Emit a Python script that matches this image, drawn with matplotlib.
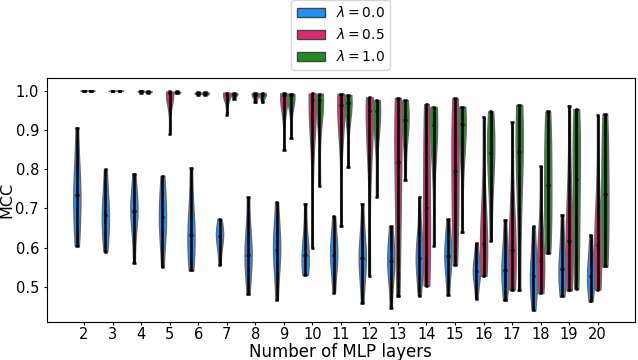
import matplotlib
matplotlib.use("Agg")
from matplotlib import pyplot as plt
from matplotlib.patches import Patch

# Data (MCC samples, one list per layer count)
layers = list(range(2, 21))
lambdas = ["0.0", "0.5", "1.0"]
colors = ["dodgerblue", "#DA2A6C", "forestgreen"]

mcc_l00 = [
    [0.605, 0.65, 0.70, 0.733, 0.76, 0.80, 0.906],
    [0.59, 0.63, 0.66, 0.684, 0.70, 0.74, 0.80],
    [0.561, 0.66, 0.68, 0.694, 0.71, 0.73, 0.788],
    [0.551, 0.63, 0.65, 0.677, 0.70, 0.74, 0.783],
    [0.542, 0.58, 0.61, 0.633, 0.66, 0.70, 0.803],
    [0.556, 0.60, 0.62, 0.630, 0.64, 0.65, 0.673],
    [0.482, 0.55, 0.57, 0.582, 0.60, 0.64, 0.728],
    [0.466, 0.55, 0.58, 0.595, 0.62, 0.65, 0.716],
    [0.531, 0.545, 0.56, 0.582, 0.60, 0.63, 0.712],
    [0.484, 0.55, 0.57, 0.582, 0.60, 0.63, 0.68],
    [0.459, 0.54, 0.56, 0.574, 0.59, 0.62, 0.712],
    [0.446, 0.53, 0.55, 0.567, 0.58, 0.61, 0.654],
    [0.478, 0.55, 0.56, 0.574, 0.59, 0.62, 0.730],
    [0.48, 0.55, 0.56, 0.578, 0.60, 0.62, 0.673],
    [0.469, 0.52, 0.53, 0.540, 0.55, 0.57, 0.612],
    [0.466, 0.51, 0.53, 0.544, 0.57, 0.60, 0.671],
    [0.44, 0.49, 0.51, 0.528, 0.55, 0.59, 0.654],
    [0.476, 0.51, 0.53, 0.545, 0.57, 0.61, 0.684],
    [0.463, 0.50, 0.515, 0.529, 0.55, 0.58, 0.633],
]

mcc_l05 = [
    [0.999, 0.9995, 1.0, 1.0, 1.0, 1.0, 1.0],
    [0.998, 0.999, 0.9995, 1.0, 1.0, 1.0, 1.0],
    [0.995, 0.997, 0.998, 0.998, 0.999, 0.999, 1.0],
    [0.889, 0.97, 0.985, 0.994, 0.996, 0.997, 0.998],
    [0.99, 0.992, 0.993, 0.993, 0.994, 0.995, 0.996],
    [0.939, 0.975, 0.985, 0.99, 0.993, 0.994, 0.995],
    [0.970, 0.98, 0.985, 0.99, 0.992, 0.993, 0.994],
    [0.849, 0.96, 0.975, 0.989, 0.991, 0.992, 0.993],
    [0.599, 0.93, 0.96, 0.976, 0.985, 0.99, 0.993],
    [0.654, 0.93, 0.95, 0.964, 0.975, 0.985, 0.992],
    [0.527, 0.88, 0.92, 0.947, 0.96, 0.975, 0.983],
    [0.476, 0.62, 0.72, 0.819, 0.90, 0.95, 0.981],
    [0.503, 0.55, 0.62, 0.70, 0.80, 0.90, 0.966],
    [0.556, 0.65, 0.72, 0.796, 0.87, 0.93, 0.981],
    [0.528, 0.55, 0.58, 0.610, 0.64, 0.70, 0.934],
    [0.493, 0.52, 0.56, 0.593, 0.63, 0.68, 0.919],
    [0.484, 0.51, 0.54, 0.565, 0.59, 0.63, 0.807],
    [0.491, 0.53, 0.58, 0.618, 0.66, 0.72, 0.961],
    [0.493, 0.53, 0.57, 0.606, 0.64, 0.68, 0.938],
]

mcc_l10 = [
    [0.999, 0.9995, 1.0, 1.0, 1.0, 1.0, 1.0],
    [0.998, 0.999, 0.9995, 1.0, 1.0, 1.0, 1.0],
    [0.995, 0.996, 0.997, 0.997, 0.998, 0.998, 0.999],
    [0.993, 0.994, 0.995, 0.996, 0.996, 0.997, 0.998],
    [0.99, 0.991, 0.992, 0.993, 0.994, 0.995, 0.996],
    [0.98, 0.985, 0.988, 0.99, 0.992, 0.993, 0.994],
    [0.970, 0.98, 0.985, 0.99, 0.992, 0.993, 0.994],
    [0.879, 0.96, 0.98, 0.99, 0.991, 0.992, 0.992],
    [0.757, 0.95, 0.965, 0.976, 0.985, 0.99, 0.992],
    [0.805, 0.94, 0.96, 0.968, 0.978, 0.985, 0.989],
    [0.73, 0.90, 0.93, 0.947, 0.96, 0.97, 0.976],
    [0.773, 0.88, 0.91, 0.925, 0.94, 0.96, 0.976],
    [0.605, 0.86, 0.89, 0.913, 0.93, 0.945, 0.959],
    [0.639, 0.85, 0.89, 0.914, 0.93, 0.945, 0.959],
    [0.618, 0.76, 0.81, 0.842, 0.88, 0.91, 0.947],
    [0.491, 0.70, 0.80, 0.845, 0.90, 0.94, 0.964],
    [0.586, 0.64, 0.70, 0.760, 0.83, 0.89, 0.947],
    [0.495, 0.58, 0.68, 0.775, 0.85, 0.91, 0.953],
    [0.552, 0.60, 0.67, 0.737, 0.80, 0.88, 0.941],
]

series = [mcc_l00, mcc_l05, mcc_l10]
offsets = [-0.25, 0.0, 0.25]

fig = plt.figure(figsize=(6.38, 3.6), dpi=100)
ax = fig.add_axes([0.073, 0.105, 0.922, 0.678])

for data, off, col in zip(series, offsets, colors):
    pos = [l + off for l in layers]
    parts = ax.violinplot(data, positions=pos, widths=0.25,
                          showextrema=True, showmedians=True)
    for body in parts["bodies"]:
        body.set_facecolor(col)
        body.set_edgecolor("dimgray")
        body.set_linewidth(1.0)
        body.set_alpha(1.0)
    for key in ("cbars", "cmins", "cmaxes", "cmedians"):
        parts[key].set_color("black")
        parts[key].set_linewidth(1.8)

ax.set_xticks(layers)
ax.set_xticklabels([str(l) for l in layers])
ax.set_xlim(0.69, 21.3)
ax.set_ylim(0.41, 1.032)
ax.set_yticks([0.5, 0.6, 0.7, 0.8, 0.9, 1.0])
ax.tick_params(axis="x", labelsize=10.5, length=2.5, pad=1)
ax.tick_params(axis="y", labelsize=10.5, length=2.5, pad=3)
ax.set_xlabel("Number of MLP layers", fontsize=12, labelpad=1)
ax.set_ylabel("MCC", fontsize=11.5, labelpad=0.5)

handles = [Patch(facecolor=c, edgecolor="#444444") for c in colors]
labels = [rf"$\lambda = {v}$" for v in lambdas]
ax.legend(handles, labels, loc="lower center", bbox_to_anchor=(0.5, 1.0),
          fontsize=10, borderaxespad=0.6)

fig.savefig("out.png", dpi=100)
